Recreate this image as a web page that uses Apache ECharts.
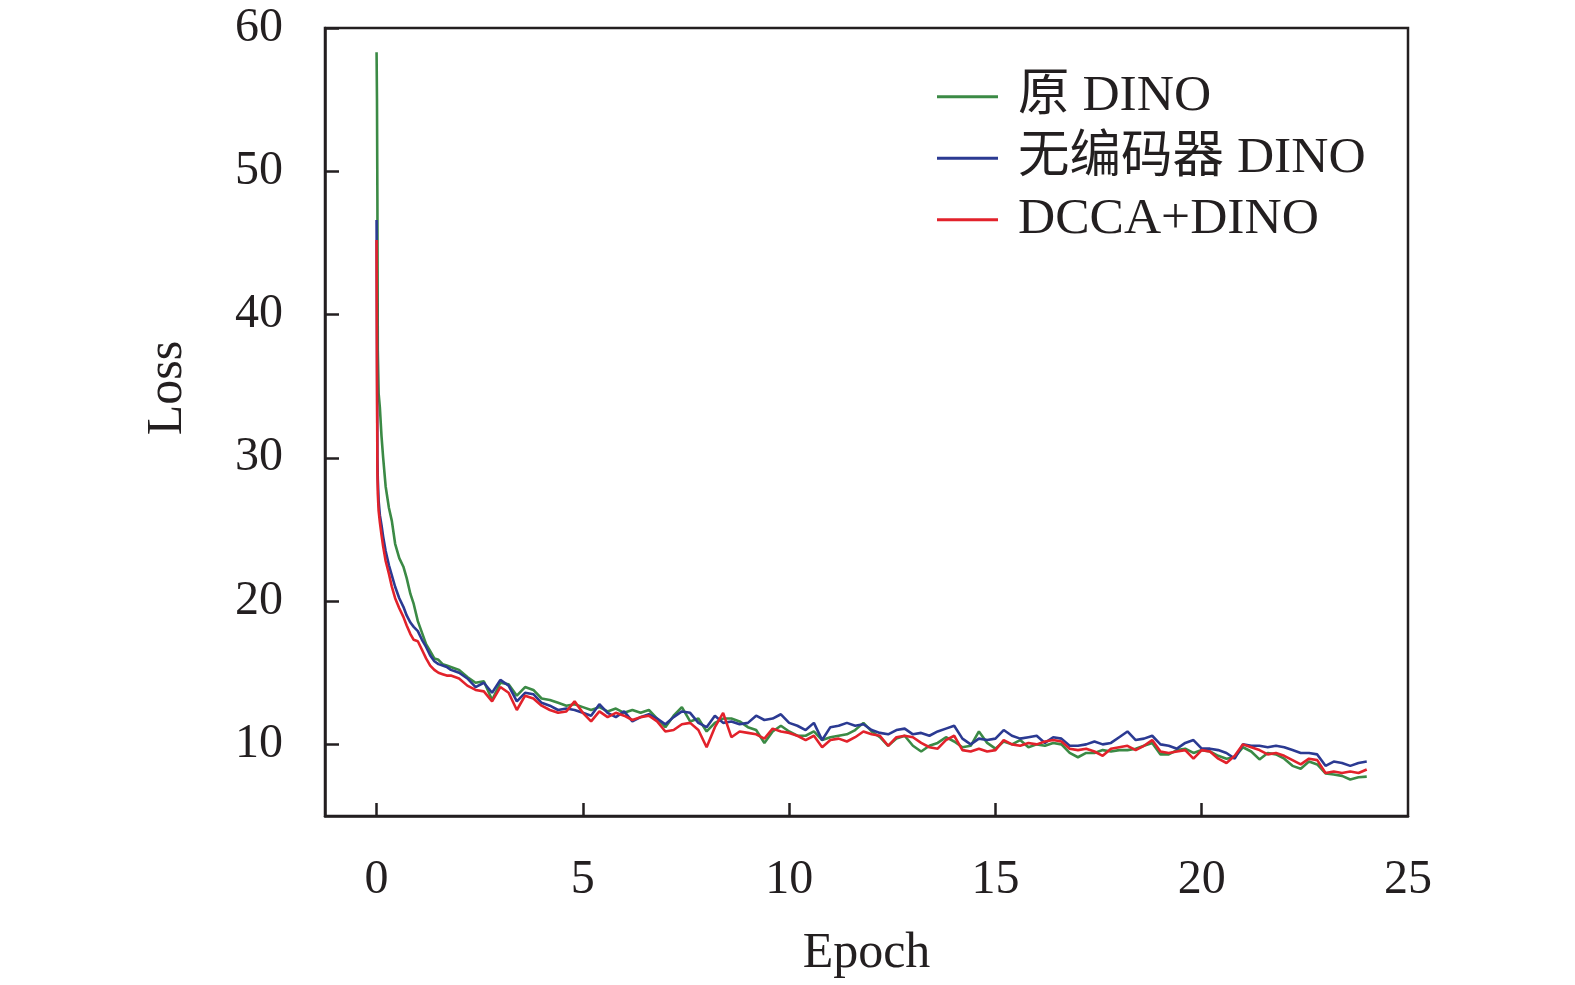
<!DOCTYPE html>
<html>
<head>
<meta charset="utf-8">
<script src="https://cdn.jsdelivr.net/npm/echarts@6/dist/echarts.min.js"></script>
<style>
html,body{margin:0;padding:0;background:#fff;}
#chart{width:1575px;height:985px;}
</style>
</head>
<body>
<div id="chart"></div>
<script>
const seriesNames = ['原 DINO', '无编码器 DINO', 'DCCA+DINO'];
const xTicks = [0, 5, 10, 15, 20, 25];
const yTicks = [10, 20, 30, 40, 50, 60];

const epochs = [0, 0.01, 0.02, 0.03, 0.05, 0.08, 0.12, 0.16, 0.22, 0.3, 0.37, 0.45, 0.55, 0.65, 0.73, 0.82, 0.9, 1.0, 1.1, 1.2, 1.3, 1.4, 1.5, 1.6, 1.7, 1.8, 1.9,
  2.0, 2.2, 2.4, 2.6, 2.8, 3.0, 3.2, 3.4, 3.6, 3.8, 4.0, 4.2, 4.4, 4.6, 4.8, 5.0, 5.2, 5.4, 5.6, 5.8,
  6.0, 6.2, 6.4, 6.6, 6.8, 7.0, 7.2, 7.4, 7.6, 7.8, 8.0, 8.2, 8.4, 8.6, 8.8, 9.0, 9.2, 9.4, 9.6, 9.8,
  10.0, 10.2, 10.4, 10.6, 10.8, 11.0, 11.2, 11.4, 11.6, 11.8, 12.0, 12.2, 12.4, 12.6, 12.8, 13.0, 13.2, 13.4, 13.6, 13.8,
  14.0, 14.2, 14.4, 14.6, 14.8, 15.0, 15.2, 15.4, 15.6, 15.8, 16.0, 16.2, 16.4, 16.6, 16.8, 17.0, 17.2, 17.4, 17.6, 17.8,
  18.0, 18.2, 18.4, 18.6, 18.8, 19.0, 19.2, 19.4, 19.6, 19.8, 20.0, 20.2, 20.4, 20.6, 20.8, 21.0, 21.2, 21.4, 21.6, 21.8,
  22.0, 22.2, 22.4, 22.6, 22.8, 23.0, 23.2, 23.4, 23.6, 23.8, 24.0];

const lossOriginal = [58.3, 55.0, 48.0, 37.5, 34.5, 33.5, 31.5, 30.0, 28.0, 26.5, 25.6, 24.0, 23.0, 22.4, 21.6, 20.5, 19.8, 18.6, 17.8, 17.0, 16.5, 16.0, 15.9, 15.6, 15.5, 15.4, 15.3,
  15.2, 14.7, 14.3, 14.4, 13.1, 14.3, 14.2, 13.4, 14.0, 13.8, 13.2, 13.1, 12.9, 12.7, 12.8, 12.6, 12.4, 12.6, 12.3, 12.5,
  12.2, 12.4, 12.2, 12.4, 11.8, 11.2, 12.0, 12.6, 11.6, 11.8, 10.9, 11.5, 11.8, 11.8, 11.6, 11.2, 11.0, 10.1, 10.9, 11.3,
  10.9, 10.6, 10.6, 10.9, 10.3, 10.5, 10.6, 10.7, 11.0, 11.5, 10.9, 10.5, 9.9, 10.4, 10.6, 9.9, 9.5, 9.9, 10.1, 10.5,
  10.2, 9.8, 9.9, 10.9, 10.1, 9.7, 10.2, 10.0, 10.3, 9.8, 10.0, 9.9, 10.1, 10.0, 9.4, 9.1, 9.4, 9.4, 9.6, 9.5,
  9.6, 9.6, 9.7, 9.9, 10.1, 9.3, 9.3, 9.6, 9.7, 9.4, 9.6, 9.5, 9.2, 9.0, 9.1, 9.8, 9.5, 8.95, 9.4, 9.3,
  9.0, 8.5, 8.3, 8.8, 8.6, 7.97, 7.9, 7.8, 7.55, 7.7, 7.75];

const lossNoEncoder = [46.6, 38.0, 30.0, 28.5, 27.0, 26.0, 25.3, 24.5, 23.5, 22.5, 21.8, 21.0, 20.2, 19.6, 19.0, 18.5, 18.2, 17.9, 17.3, 16.8, 16.2, 15.8, 15.6, 15.5, 15.4, 15.2, 15.1,
  15.0, 14.6, 14.0, 14.3, 13.6, 14.5, 14.1, 13.0, 13.6, 13.5, 12.9, 12.7, 12.4, 12.5, 12.4, 12.2, 12.0, 12.8, 12.2, 11.9,
  12.3, 11.6, 11.9, 12.1, 11.8, 11.4, 11.9, 12.3, 12.2, 11.5, 11.2, 12.0, 11.5, 11.6, 11.4, 11.5, 12.0, 11.7, 11.8, 12.1,
  11.5, 11.3, 11.0, 11.5, 10.3, 11.2, 11.3, 11.5, 11.3, 11.4, 11.0, 10.8, 10.7, 11.0, 11.1, 10.7, 10.8, 10.6, 10.9, 11.1,
  11.3, 10.4, 10.0, 10.4, 10.3, 10.4, 11.0, 10.6, 10.4, 10.5, 10.6, 10.1, 10.5, 10.4, 9.9, 9.9, 10.0, 10.2, 10.0, 10.1,
  10.5, 10.9, 10.3, 10.4, 10.6, 10.0, 9.9, 9.7, 10.1, 10.3, 9.7, 9.7, 9.6, 9.4, 9.0, 10.0, 9.9, 9.9, 9.8, 9.9,
  9.8, 9.6, 9.4, 9.4, 9.3, 8.5, 8.8, 8.7, 8.5, 8.7, 8.8];

const lossDCCA = [45.2, 36.0, 29.0, 27.5, 26.3, 25.5, 24.6, 23.8, 22.8, 21.9, 21.0, 20.2, 19.5, 18.9, 18.3, 17.7, 17.3, 17.2, 16.6, 16.0, 15.5, 15.2, 15.0, 14.9, 14.8, 14.8, 14.7,
  14.6, 14.1, 13.8, 13.7, 13.0, 14.0, 13.6, 12.4, 13.4, 13.2, 12.7, 12.4, 12.2, 12.3, 13.0, 12.2, 11.6, 12.3, 11.9, 12.2,
  12.0, 11.7, 11.9, 12.0, 11.6, 10.9, 11.0, 11.4, 11.5, 11.0, 9.8, 11.2, 12.2, 10.5, 10.9, 10.8, 10.7, 10.4, 11.1, 10.9,
  10.8, 10.6, 10.3, 10.6, 9.8, 10.3, 10.4, 10.2, 10.5, 10.9, 10.7, 10.6, 9.9, 10.5, 10.6, 10.5, 10.1, 9.8, 9.7, 10.3,
  10.6, 9.6, 9.5, 9.7, 9.5, 9.6, 10.3, 10.0, 9.9, 10.1, 10.0, 10.2, 10.3, 10.2, 9.7, 9.6, 9.7, 9.5, 9.2, 9.7,
  9.8, 9.9, 9.6, 9.9, 10.3, 9.5, 9.4, 9.5, 9.6, 9.0, 9.6, 9.5, 9.0, 8.7, 9.2, 10.0, 9.8, 9.6, 9.3, 9.4,
  9.2, 8.9, 8.6, 9.0, 8.9, 8.0, 8.1, 8.0, 8.1, 8.0, 8.25];

const colors = ['#3b8a45', '#2b3a92', '#e2222b'];
const pair = (ys) => epochs.map((x, i) => [x, ys[i]]);
const axisColor = '#231f20';
const fontFam = '"Liberation Serif", "Times New Roman", "Noto Sans CJK SC", serif';

const chart = echarts.init(document.getElementById('chart'), null, {renderer: 'canvas'});
chart.setOption({
  backgroundColor: '#ffffff',
  animation: false,
  grid: {left: 325, top: 28, right: 167, bottom: 169, show: true, borderColor: axisColor, borderWidth: 2.5, backgroundColor: 'transparent'},
  legend: {
    orient: 'vertical', left: 932, top: 66,
    icon: 'rect', itemWidth: 61, itemHeight: 3, itemGap: 10,
    data: seriesNames,
    textStyle: {fontFamily: fontFam, fontSize: 51.5, color: '#231f20', lineHeight: 50, padding: [0, 0, 0, 15]}
  },
  xAxis: {
    type: 'value', min: -1.25, max: 25,
    name: 'Epoch', nameLocation: 'middle', nameGap: 113,
    nameTextStyle: {fontFamily: fontFam, fontSize: 50, color: '#231f20'},
    axisLine: {show: true, onZero: false, lineStyle: {color: axisColor, width: 2.5}},
    axisTick: {show: true, inside: true, length: 13, lineStyle: {color: axisColor, width: 2.5}, customValues: [0, 5, 10, 15, 20]},
    axisLabel: {customValues: xTicks, margin: 40, fontFamily: fontFam, fontSize: 48, color: '#231f20', showMaxLabel: true, showMinLabel: true},
    splitLine: {show: false}
  },
  yAxis: {
    type: 'value', min: 5, max: 60,
    name: 'Loss', nameLocation: 'middle', nameGap: 132,
    nameTextStyle: {fontFamily: fontFam, fontSize: 50, color: '#231f20', padding: [0, 0, 0, 68]},
    axisLine: {show: true, onZero: false, lineStyle: {color: axisColor, width: 2.5}},
    axisTick: {show: true, inside: true, length: 14, lineStyle: {color: axisColor, width: 2.5}, customValues: yTicks},
    axisLabel: {customValues: yTicks, margin: 42, fontFamily: fontFam, fontSize: 48, color: '#231f20', showMaxLabel: true},
    splitLine: {show: false}
  },
  series: [
    {name: seriesNames[0], type: 'line', data: pair(lossOriginal), symbol: 'none', lineStyle: {width: 2.6, color: colors[0]}, itemStyle: {color: colors[0]}},
    {name: seriesNames[1], type: 'line', data: pair(lossNoEncoder), symbol: 'none', lineStyle: {width: 2.6, color: colors[1]}, itemStyle: {color: colors[1]}},
    {name: seriesNames[2], type: 'line', data: pair(lossDCCA), symbol: 'none', lineStyle: {width: 2.6, color: colors[2]}, itemStyle: {color: colors[2]}}
  ]
});
</script>
</body>
</html>
